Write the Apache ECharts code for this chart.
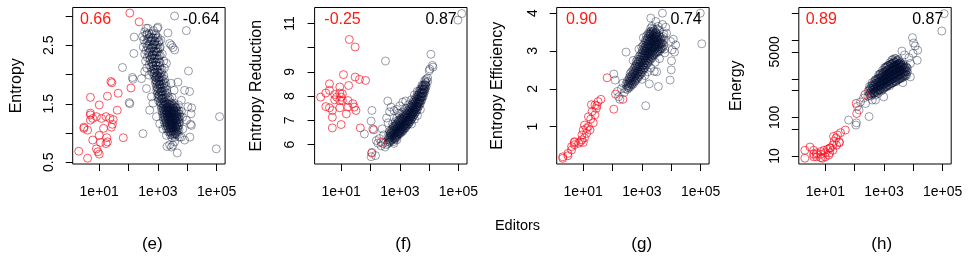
<!DOCTYPE html>
<html><head><meta charset="utf-8">
<script src="https://cdn.jsdelivr.net/npm/echarts@6/dist/echarts.min.js"></script>
<style>html,body{margin:0;padding:0;background:#fff}#c{width:969px;height:259px}</style>
</head><body><div id="c"></div>
<script>
// ---------- DATA (editors, metric) ----------
const panelNames = ['Entropy', 'Entropy Reduction', 'Entropy Efficiency', 'Energy'];
const panelLetters = ['(e)', '(f)', '(g)', '(h)'];
const corrRed = ['0.66', '-0.25', '0.90', '0.89'];
const corrBlue = ['-0.64', '0.87', '0.74', '0.87'];
const xTitle = 'Editors';
const xTickEditors = [10, 100, 1000, 10000, 100000];
const xLabelEditors = [10, 1000, 100000];
const eTicks = [0.5, 1, 1.5, 2, 2.5, 3], eLabels = [0.5, 1.5, 2.5];
const fTicks = [6, 7, 8, 9, 10, 11], fLabels = [6, 7, 8, 9, 11];
const gTicks = [1, 2, 3, 4], gLabels = [1, 2, 3, 4];
const hTicks = [10, 50, 100, 500, 1000, 5000, 10000, 50000], hLabels = [10, 100, 5000];

const eRed = [[110,3.05],[229,2.90],[25,1.88],[27,1.86],[120,1.77],[44,1.68],[19,1.63],[5,1.61],[10,1.48],[41,1.39],[5,1.34],[5,1.31],[8,1.28],[12,1.25],[17,1.28],[23,1.25],[30,1.23],[28,1.15],[26,1.10],[6,1.25],[5,1.22],[3,1.10],[3,1.08],[4,1.05],[14,1.08],[10,0.96],[6,0.88],[18,0.92],[19,0.85],[17,0.82],[66,0.92],[8,0.73],[9,0.68],[10,0.64],[2,0.69],[4,0.57],[11,0.84]];
const eBlue = [[3700,3.00],[9300,2.75],[457,2.79],[1000,2.81],[155,2.64],[2190,2.71],[151,2.36],[2880,2.50],[3240,2.46],[62,2.12],[141,1.92],[135,1.95],[11000,2.06],[12000,1.71],[105,1.52],[110,1.50],[14100,1.43],[126000,1.28],[13500,1.33],[12900,1.15],[309,0.99],[12300,0.93],[2510,0.80],[2880,0.76],[2040,0.77],[4570,0.66],[97700,0.73],[6310,0.93],[8130,0.88],[398,2.79],[955,2.79],
[2510,2.53],[3720,2.42],[1950,2.19],[4790,1.87],[8130,1.73],[6310,1.56],[10500,1.45],[9330,1.22],[13800,1.13],[7080,1.07],[3720,0.85],[3240,0.79],[5500,0.93],[355,2.05],[275,1.93],[407,1.76],[603,1.62],[676,1.51],[525,1.39],[891,1.28],[1150,1.16],[1480,1.07],[1950,0.96],
[355,2.73],[501,2.70],[708,2.75],[302,2.65],[417,2.68],[575,2.64],[832,2.67],[331,2.59],[457,2.61],[631,2.58],[891,2.62],[1260,2.59],[380,2.53],[525,2.56],[724,2.52],[1050,2.55],[316,2.47],[437,2.49],[603,2.46],[832,2.50],[1200,2.47],[398,2.41],[550,2.43],[759,2.40],[1000,2.44],[355,2.35],[479,2.37],[661,2.34],[912,2.38],[1410,2.35],[437,2.29],[603,2.31],[794,2.28],[1100,2.32],[380,2.23],[525,2.25],[708,2.22],[955,2.26],[1580,2.23],[501,2.17],[661,2.19],[871,2.16],[1200,2.20],[417,2.11],[575,2.13],[759,2.10],[1000,2.14],[1660,2.11],[603,2.05],[794,2.07],[1050,2.04],[1380,2.08],[501,1.99],[692,2.01],[912,1.98],[1200,2.02],
[640,2.62],[780,2.56],[690,2.47],[860,2.40],[740,2.33],[640,2.27],[830,2.20],[700,2.14],[900,2.09],[760,2.03],[850,1.95],[1100,1.94],[900,1.88],[1150,1.83],[980,1.76],[1300,1.71],[1080,1.64],[1380,1.59],
[417,2.70],[603,2.70],[832,2.70],[501,2.63],[692,2.63],[1000,2.63],[437,2.57],[575,2.57],[794,2.57],[1100,2.57],[501,2.51],[692,2.51],[955,2.51],[457,2.45],[631,2.45],[871,2.45],[1150,2.45],[525,2.39],[724,2.39],[1000,2.39],[501,2.33],[661,2.33],[912,2.33],[1200,2.33],[550,2.27],[759,2.27],[1050,2.27],[603,2.21],[832,2.21],[1100,2.21],[661,2.15],[871,2.15],[1150,2.15],[692,2.09],[912,2.09],[1200,2.09],[759,2.03],[1000,2.03],[1320,2.03],
[851,1.95],[1070,1.95],[1380,1.95],[891,1.89],[1120,1.89],[1480,1.89],[933,1.83],[1170,1.83],[1550,1.83],[1000,1.77],[1260,1.77],[1660,1.77],[1050,1.71],[1320,1.71],[1740,1.71],[1100,1.65],[1380,1.65],[1820,1.65],[1150,1.59],[1450,1.59],[1910,1.59],[2510,1.59],
[759,1.97],[955,1.99],[1200,1.96],[1580,1.98],[794,1.91],[1000,1.93],[1260,1.90],[1660,1.92],[832,1.85],[1050,1.87],[1320,1.84],[1780,1.86],[2820,1.85],[891,1.79],[1120,1.81],[1410,1.78],[1910,1.80],[912,1.73],[1150,1.75],[1450,1.72],[2000,1.74],[3550,1.73],[955,1.67],[1200,1.69],[1510,1.66],[2090,1.68],[1000,1.61],[1260,1.63],[1580,1.60],[2190,1.62],[3020,1.61],[1050,1.55],[1320,1.57],[1660,1.54],[2290,1.56],
[1200,1.52],[1450,1.51],[1740,1.53],[2090,1.50],[2630,1.52],[3550,1.51],[1260,1.47],[1510,1.46],[1820,1.48],[2190,1.45],[2750,1.47],[3630,1.46],[5010,1.48],[1320,1.42],[1580,1.41],[1910,1.43],[2290,1.40],[2880,1.42],[3470,1.41],[4370,1.43],[1380,1.37],[1660,1.36],[2000,1.38],[2400,1.35],[3020,1.37],[3630,1.36],[4570,1.38],[6310,1.37],[1450,1.32],[1740,1.31],[2090,1.33],[2510,1.30],[3020,1.32],[3800,1.31],[4790,1.33],[1510,1.27],[1820,1.26],[2190,1.28],[2630,1.25],[3160,1.27],[3980,1.26],[5010,1.28],[6920,1.27],[1580,1.22],[1910,1.21],[2290,1.23],[2750,1.20],[3310,1.22],[4170,1.21],[5250,1.23],[1700,1.17],[2040,1.16],[2400,1.18],[2880,1.15],[3470,1.17],[4370,1.16],[5500,1.18],[1820,1.12],[2190,1.11],[2630,1.13],[3160,1.10],[3800,1.12],[4790,1.11],[2000,1.07],[2400,1.06],[2880,1.08],[3470,1.05],[4170,1.07],[5250,1.06],[2290,1.02],[2750,1.01],[3310,1.03],[3980,1.00],[4790,1.02],[2630,0.97],[3160,0.96],[3800,0.98],[4570,0.97],[3020,0.92],[3800,0.93],
[2000,1.445],[2510,1.44],[3160,1.45],[3980,1.44],[1820,1.395],[2290,1.39],[2880,1.40],[3630,1.39],[2000,1.345],[2510,1.34],[3160,1.35],[4170,1.34],[2190,1.295],[2750,1.29],[3470,1.30],[4370,1.29],[2290,1.245],[2880,1.24],[3630,1.25],[4570,1.24],[2510,1.195],[3160,1.19],[3980,1.20],[2510,1.145],[3020,1.14],[3630,1.15],[4370,1.14],[2750,1.095],[3310,1.09],[3980,1.10],
[1320,1.50],[1580,1.50],[1910,1.50],[2340,1.50],[3020,1.50],[1660,1.48],[2510,1.48],[3310,1.48],[1450,1.43],[1780,1.43],[2140,1.43],[2630,1.43],[3240,1.43],[3980,1.43],[1550,1.38],[1910,1.38],[2290,1.38],[2750,1.38],[3390,1.38],[4170,1.38],[5250,1.38],[1620,1.33],[1950,1.33],[2340,1.33],[2820,1.33],[3470,1.33],[4270,1.33],[5370,1.33],[1700,1.28],[2040,1.28],[2450,1.28],[2950,1.28],[3630,1.28],[4470,1.28],[5750,1.28],[1780,1.23],[2140,1.23],[2570,1.23],[3090,1.23],[3800,1.23],[4680,1.23],[1910,1.18],[2290,1.18],[2750,1.18],[3310,1.18],[4070,1.18],[5010,1.18],[2040,1.13],[2450,1.13],[2950,1.13],[3550,1.13],[4370,1.13],[5250,1.13],[2240,1.08],[2690,1.08],[3240,1.08],[3890,1.08],[4680,1.08],[2510,1.03],[3020,1.03],[3630,1.03],[4370,1.03],[2880,0.99],[3470,0.99],[4170,0.99]];

const fRed = [[19,10.34],[30,10.03],[12,8.89],[30,8.79],[42,8.69],[68,8.65],[4,8.51],[18,8.44],[9,8.38],[3,8.13],[2,7.96],[4,8.24],[6,8.07],[9,8.13],[11,8.10],[7,7.96],[10,7.96],[9,7.82],[11,7.82],[17,7.82],[6,7.85],[3,7.57],[4,7.52],[5,7.41],[9,7.52],[17,7.55],[25,7.69],[28,7.55],[32,7.41],[15,7.27],[5,7.13],[5,6.69],[10,6.83],[45,6.69],[129,6.61],[229,6.10],[110,5.65]];
const fBlue = [[263,6.05],[229,5.95],[200,6.25],[282,6.40],[316,5.90],[355,6.00],[158,6.17],[178,6.06],[112,5.68],[105,5.50],[148,5.55],[62,6.44],[120,6.65],[105,6.97],[112,7.41],[389,7.80],[324,9.45],[11500,9.73],[12900,9.27],[13500,9.20],[10500,9.12],[10000,9.05],[95500,11.14],[129000,11.41],[251,6.65],[355,7.10],[447,7.35],[501,7.55],[631,7.40],[398,6.90],[794,7.45],[1000,7.60],[1260,7.75],[1580,7.80],[891,7.30],[3160,7.05],[3980,7.20],[5010,7.45],[2510,6.85],
[398,6.05],[405,6.20],[392,6.35],[447,6.10],[440,6.25],[455,6.40],[447,6.55],[501,6.15],[510,6.30],[495,6.45],[505,6.60],[562,6.20],[555,6.35],[570,6.50],[560,6.65],[566,6.85],[631,6.05],[640,6.25],[625,6.40],[635,6.55],[628,6.70],[708,6.30],[700,6.45],[715,6.60],[705,6.75],[712,6.95],[794,6.20],[785,6.35],[800,6.50],[790,6.65],[798,6.80],[788,7.10],[891,6.40],[880,6.55],[900,6.70],[885,6.85],[895,7.00],[1000,6.45],[990,6.60],[1010,6.75],[995,6.90],[1005,7.05],[985,7.25],[1122,6.50],[1110,6.65],[1130,6.80],[1115,6.95],[1125,7.10],[1259,6.55],[1245,6.70],[1270,6.85],[1250,7.00],[1265,7.15],[1240,7.35],[1413,6.65],[1400,6.80],[1425,6.95],[1405,7.10],[1420,7.25],[1585,6.70],[1570,6.85],[1600,7.00],[1575,7.15],[1595,7.30],[1565,7.50],[1778,6.80],[1760,6.95],[1795,7.10],[1770,7.25],[1785,7.40],[1995,6.85],[1980,7.00],[2010,7.15],[1985,7.30],[2005,7.45],[1975,7.65],[2239,6.95],[2220,7.10],[2255,7.25],[2230,7.40],[2250,7.55],[2512,7.05],[2490,7.20],[2530,7.35],[2500,7.50],[2520,7.65],[2480,7.85],[2818,7.15],[2800,7.30],[2840,7.45],[2810,7.60],[2830,7.75],[3162,7.25],[3140,7.40],[3180,7.55],[3150,7.70],[3170,7.85],[3130,8.05],[3548,7.35],[3520,7.50],[3570,7.65],[3530,7.80],[3560,7.95],[3981,7.45],[3950,7.60],[4010,7.75],[3960,7.90],[4000,8.05],[3940,8.20],[4467,7.60],[4430,7.75],[4500,7.90],[4450,8.05],[4480,8.20],[5012,7.70],[4970,7.85],[5050,8.00],[4990,8.15],[5030,8.30],[5623,7.85],[5580,8.00],[5660,8.15],[5600,8.30],[5640,8.45],[6310,8.00],[6260,8.15],[6350,8.30],[6290,8.45],[7079,8.20],[7020,8.35],[7130,8.50],[7050,8.65],[7943,8.40],[7880,8.55],[8000,8.70],[8913,8.60],[8850,8.75],
[600,6.12],[680,6.22],[760,6.28],[850,6.45],[950,6.52],[1060,6.58],[1180,6.62],[1330,6.75],[1500,6.78],[1680,6.88],[1880,6.95],[2120,7.02],[2370,7.15],[2660,7.25],[2980,7.35],[3350,7.45],[3760,7.55],[4220,7.70],[4740,7.80],[5300,7.95],[5950,8.10],[6680,8.25],[7500,8.45],
[417,6.12],[417,6.28],[468,6.18],[468,6.33],[468,6.48],[525,6.22],[525,6.38],[525,6.52],[589,6.28],[589,6.42],[589,6.58],[589,6.75],[661,6.32],[661,6.48],[661,6.62],[661,6.78],[741,6.38],[741,6.52],[741,6.68],[741,6.85],[832,6.42],[832,6.58],[832,6.72],[832,6.90],[933,6.48],[933,6.62],[933,6.78],[933,6.95],[1047,6.52],[1047,6.68],[1047,6.82],[1047,7.00],[1175,6.58],[1175,6.72],[1175,6.88],[1175,7.05],[1318,6.62],[1318,6.78],[1318,6.92],[1318,7.10],[1479,6.70],[1479,6.85],[1479,7.00],[1479,7.18],[1660,6.78],[1660,6.92],[1660,7.08],[1660,7.22],[1862,6.85],[1862,7.00],[1862,7.15],[1862,7.30],[2089,6.92],[2089,7.08],[2089,7.22],[2089,7.38],[2344,7.02],[2344,7.18],[2344,7.32],[2344,7.48],[2630,7.12],[2630,7.28],[2630,7.42],[2630,7.58],[2951,7.22],[2951,7.38],[2951,7.52],[2951,7.68],[3311,7.32],[3311,7.48],[3311,7.62],[3311,7.78],[3715,7.42],[3715,7.58],[3715,7.72],[3715,7.88],[4169,7.55],[4169,7.70],[4169,7.85],[4169,8.00],[4677,7.68],[4677,7.82],[4677,7.98],[4677,8.12],[5248,7.80],[5248,7.95],[5248,8.10],[5248,8.25],[5888,7.95],[5888,8.10],[5888,8.25],[5888,8.40],[6607,8.12],[6607,8.28],[6607,8.42],[7413,8.30],[7413,8.45],[7413,8.60]];

const gRed = [[65,2.29],[126,1.86],[224,1.72],[110,1.46],[40,1.72],[32,1.66],[25,1.57],[19,1.58],[28,1.48],[20,1.40],[29,1.55],[15,1.26],[25,1.31],[22,1.10],[11,1.04],[15,1.00],[17,0.91],[10,0.91],[13,0.82],[9,0.78],[11,0.70],[9,0.65],[10,0.58],[7,0.56],[5,0.60],[5,0.58],[5,0.52],[4,0.47],[4,0.38],[3,0.29],[3,0.23],[2,0.20],[2,0.16],[13,0.95],[8,0.60],[18,1.20]];
const gBlue = [[97700,4.00],[110000,3.19],[5010,4.00],[1350,1.55],[288,2.97],[110,2.39],[123,2.23],[145,1.93],[162,1.79],[178,1.72],[10700,3.03],[12900,2.97],[10200,2.74],[10000,2.50],[9120,2.23],[3630,2.06],[9550,3.25],[11700,3.31],[6460,3.63],[2950,3.78],[2000,3.87],[14100,3.16],[1780,2.13],[2630,2.46],[6920,3.47],
[1000,2.25],[1260,2.35],[1580,2.45],[2000,2.55],[2820,2.70],[3980,2.80],[501,2.75],[794,3.05],[1120,3.35],[3980,3.55],[5620,3.45],[6030,2.95],[3160,2.45],[200,2.00],[224,2.15],[251,1.90],[5010,3.70],[3550,3.65],
[2000,3.60],[2400,3.58],[2700,3.55],[1800,3.50],[3000,3.50],[3300,3.58],[2200,3.65],[5500,3.15],[5800,3.30],[5300,3.38],[6000,3.05],
[282,2.00],[285,2.12],[316,1.98],[320,2.08],[312,2.20],[355,2.02],[350,2.12],[360,2.25],[398,2.05],[392,2.15],[404,2.28],[395,2.40],[447,2.10],[440,2.20],[452,2.32],[444,2.45],[501,2.12],[495,2.25],[508,2.38],[498,2.50],[562,2.18],[555,2.30],[570,2.42],[558,2.55],[631,2.22],[622,2.35],[640,2.48],[628,2.60],[636,2.72],[708,2.28],[700,2.40],[716,2.52],[704,2.65],[712,2.78],[794,2.32],[785,2.45],[803,2.58],[790,2.70],[798,2.85],[891,2.38],[880,2.50],[900,2.62],[885,2.75],[896,2.90],[1000,2.42],[990,2.55],[1010,2.68],[995,2.80],[1005,2.95],[985,3.10],[1122,2.50],[1110,2.62],[1135,2.75],[1115,2.88],[1128,3.00],[1105,3.15],[1259,2.55],[1245,2.68],[1272,2.80],[1250,2.92],[1265,3.05],[1240,3.20],[1413,2.62],[1400,2.75],[1428,2.88],[1405,3.00],[1420,3.12],[1395,3.25],[1432,3.40],[1585,2.68],[1570,2.80],[1600,2.92],[1575,3.05],[1595,3.18],[1565,3.30],[1605,3.45],[1778,2.72],[1760,2.85],[1795,2.98],[1770,3.10],[1785,3.22],[1755,3.35],[1995,2.78],[1975,2.90],[2015,3.02],[1985,3.15],[2005,3.28],[1970,3.40],[2020,3.52],[2239,2.82],[2215,2.95],[2260,3.08],[2225,3.20],[2250,3.32],[2210,3.45],[2512,2.88],[2490,3.00],[2535,3.12],[2500,3.25],[2525,3.38],[2485,3.50],[2818,2.92],[2790,3.05],[2845,3.18],[2805,3.30],[2830,3.42],[3162,2.95],[3130,3.08],[3190,3.20],[3145,3.32],[3175,3.45],[3548,2.98],[3510,3.10],[3580,3.22],[3530,3.35],[3981,3.00],[3940,3.12],[4020,3.25],[3960,3.38],[4467,3.05],[4420,3.18],[4510,3.30],[5012,3.08],[4960,3.20],
[1330,2.98],[1500,3.08],[1680,3.15],[1880,3.25],[2110,3.35],[2370,3.42],[2660,3.25],[2980,3.15],[3350,3.28],[1200,2.85],[1680,2.95],[2110,3.08],[2660,3.35],[3000,3.38],[3760,3.18],[1880,3.45],
[331,2.04],[331,2.15],[372,2.08],[372,2.19],[372,2.30],[417,2.12],[417,2.22],[417,2.34],[468,2.15],[468,2.27],[468,2.38],[525,2.20],[525,2.32],[525,2.44],[589,2.24],[589,2.36],[589,2.48],[589,2.60],[661,2.28],[661,2.42],[661,2.55],[661,2.66],[741,2.34],[741,2.46],[741,2.58],[741,2.72],[832,2.38],[832,2.52],[832,2.64],[832,2.78],[933,2.45],[933,2.58],[933,2.70],[933,2.85],[1047,2.50],[1047,2.62],[1047,2.75],[1047,2.88],[1047,3.02],[1175,2.55],[1175,2.68],[1175,2.82],[1175,2.95],[1175,3.08],[1318,2.62],[1318,2.75],[1318,2.88],[1318,3.00],[1318,3.12],[1318,3.28],[1479,2.68],[1479,2.82],[1479,2.94],[1479,3.06],[1479,3.18],[1479,3.32],[1660,2.75],[1660,2.88],[1660,3.00],[1660,3.12],[1660,3.25],[1660,3.38],[1862,2.80],[1862,2.92],[1862,3.05],[1862,3.18],[1862,3.30],[1862,3.44],[2089,2.85],[2089,2.98],[2089,3.10],[2089,3.22],[2089,3.35],[2089,3.48],[2344,2.90],[2344,3.02],[2344,3.15],[2344,3.28],[2344,3.40],[2344,3.52],[2630,2.94],[2630,3.06],[2630,3.18],[2630,3.32],[2630,3.45],[2951,2.98],[2951,3.10],[2951,3.24],[2951,3.36],[2951,3.48],[3311,3.00],[3311,3.14],[3311,3.26],[3311,3.40],[3715,3.04],[3715,3.16],[3715,3.30],[3715,3.42],[4169,3.06],[4169,3.20],[4169,3.32],[4677,3.10],[4677,3.22],[4677,3.35]];

const hRed = [[224,390],[112,230],[117,126],[48,47],[33,40],[26,35],[19,32],[23,29],[30,23],[30,22],[24,19],[15,16],[12,15],[9,14],[7,13],[5,12],[4,14],[3,17],[2,14],[2,8.7],[4,11],[5,9.5],[8,8.7],[10,9.5],[14,12],[18,14],[5,11],[7,11],[10,12],[14,16],[18,19],[4,9.5],[7,9.0],[13,10.5],[20,24]];
const hBlue = [[112000,49000],[93300,17400],[9330,11700],[10200,8510],[11500,7080],[14100,5500],[13500,3020],[9770,4570],[4070,5250],[5010,4170],[7080,3550],[7940,2510],[309,105],[110,63],[115,72],[62,85],[141,155],[123,191],[234,229],[398,282],[513,282],[977,339],[4370,794],[7940,1120],[200,316],[158,251],
[282,355],[285,479],[316,380],[312,501],[320,631],[355,355],[350,447],[360,562],[398,398],[392,501],[404,631],[395,794],[447,417],[441,525],[452,661],[501,380],[495,479],[508,603],[498,759],[505,955],[562,447],[555,562],[570,708],[558,891],[631,417],[622,525],[640,661],[628,832],[636,1047],[708,501],[700,631],[716,794],[704,1000],[712,1259],[794,479],[785,603],[803,759],[790,955],[798,1202],[891,525],[880,661],[900,832],[885,1047],[896,1318],[888,1660],[1000,562],[990,708],[1010,891],[995,1122],[1005,1413],[1122,603],[1110,759],[1135,955],[1115,1202],[1128,1514],[1105,1905],[1259,631],[1245,794],[1272,1000],[1250,1259],[1265,1585],[1240,1995],[1413,708],[1400,891],[1428,1122],[1405,1413],[1420,1778],[1395,2239],[1585,661],[1570,832],[1600,1047],[1575,1318],[1595,1660],[1565,2089],[1605,2630],[1778,759],[1760,955],[1795,1202],[1770,1514],[1785,1905],[1755,2399],[1995,794],[1975,1000],[2015,1259],[1985,1585],[2005,1995],[1970,2512],[2020,3162],[2239,891],[2215,1122],[2260,1413],[2225,1778],[2250,2239],[2210,2818],[2512,832],[2490,1047],[2535,1318],[2500,1660],[2525,2089],[2485,2630],[2540,3311],[2818,955],[2790,1202],[2845,1514],[2805,1905],[2830,2399],[2780,3020],[3162,1000],[3130,1259],[3190,1585],[3145,1995],[3175,2512],[3120,3162],[3548,1047],[3510,1318],[3580,1660],[3530,2089],[3565,2630],[3981,1122],[3940,1413],[4020,1778],[3960,2239],[4467,1202],[4420,1514],[4510,1905],[4450,2399],[5012,1259],[4960,1585],[5060,1995],[5623,1318],[5570,1660],[5680,2089],[6310,1514],[6250,1905],
[760,700],[850,850],[950,900],[1060,1000],[1180,1150],[1330,1250],[1500,1400],[1680,1500],[1880,1650],[2110,1800],[2370,1950],[2660,2100],[2980,2250],[3350,2400],[3760,2300],[4220,2000],[1330,900],[1680,1100],[2110,1350],[2660,1600],[3350,1800],
[331,417],[331,562],[372,398],[372,501],[372,661],[417,447],[417,562],[417,708],[468,427],[468,537],[468,676],[468,851],[525,468],[525,589],[525,741],[525,933],[589,490],[589,617],[589,776],[589,977],[661,513],[661,646],[661,813],[661,1023],[661,1288],[741,537],[741,676],[741,851],[741,1072],[741,1349],[832,562],[832,708],[832,891],[832,1122],[832,1413],[933,589],[933,741],[933,933],[933,1175],[933,1479],[1047,617],[1047,776],[1047,977],[1047,1230],[1047,1549],[1047,1950],[1175,646],[1175,813],[1175,1023],[1175,1288],[1175,1622],[1175,2040],[1318,676],[1318,851],[1318,1072],[1318,1349],[1318,1698],[1318,2140],[1479,708],[1479,891],[1479,1122],[1479,1413],[1479,1778],[1479,2240],[1660,741],[1660,933],[1660,1175],[1660,1479],[1660,1862],[1660,2340],[1862,776],[1862,977],[1862,1230],[1862,1549],[1862,1950],[1862,2450],[1862,3090],[2089,813],[2089,1023],[2089,1288],[2089,1622],[2089,2040],[2089,2570],[2344,851],[2344,1072],[2344,1349],[2344,1698],[2344,2140],[2344,2690],[2344,3390],[2630,891],[2630,1122],[2630,1413],[2630,1778],[2630,2240],[2630,2820],[2951,933],[2951,1175],[2951,1479],[2951,1862],[2951,2340],[2951,2950],[3311,977],[3311,1230],[3311,1549],[3311,1950],[3311,2450],[3715,1023],[3715,1288],[3715,1622],[3715,2040],[3715,2570],[4169,1072],[4169,1349],[4169,1698],[4169,2140],[4677,1122],[4677,1413],[4677,1778],[4677,2240],[5248,1175],[5248,1479],[5248,1862],[5888,1230],[5888,1549],[5888,1950]];

// ---------- LAYOUT / STYLE ----------
const FONT = 'Liberation Sans, Arial, Helvetica, sans-serif';
const BLUE = 'rgba(0,12,45,0.5)';
const RED = 'rgba(250,10,30,0.85)';
const lefts = [72.7, 314.6, 556.7, 798.8];
const boxW = 152.4, boxTop = 7.5, boxH = 156.5;
const panels = [
  {red: eRed, blue: eBlue, ticks: eTicks, labels: eLabels, logY: false, min: 0.471, max: 3.145, gap: 48},
  {red: fRed, blue: fBlue, ticks: fTicks, labels: fLabels, logY: false, min: 5.2, max: 11.66, gap: 50},
  {red: gRed, blue: gBlue, ticks: gTicks, labels: gLabels, logY: false, min: 0.01, max: 4.15, gap: 51},
  {red: hRed, blue: hBlue, ticks: hTicks, labels: hLabels, logY: true, min: 0.79, max: 4.85, gap: 54}
];
const corrRedX = [80, 324.3, 566, 805.7];
const corrBlueX = [219.3, 456.7, 701.7, 943.3];
const letterX = [152.3, 403.3, 641.7, 881.7];

const option = {animation: false, grid: [], xAxis: [], yAxis: [], series: [], graphic: []};
panels.forEach((p, i) => {
  const ty = v => p.logY ? Math.log10(v) : v;
  option.grid.push({left: lefts[i], top: boxTop, width: boxW, height: boxH, show: true,
    borderColor: '#000', borderWidth: 1, backgroundColor: 'transparent', containLabel: false, outerBoundsMode: 'none'});
  option.xAxis.push({gridIndex: i, type: 'value', min: 0.095, max: 5.29,
    axisLine: {show: false}, splitLine: {show: false},
    axisTick: {show: true, inside: false, length: 7, lineStyle: {color: '#000', width: 1}, customValues: xTickEditors.map(Math.log10)},
    axisLabel: {customValues: xLabelEditors.map(Math.log10), formatter: v => '1e+0' + Math.round(v),
      margin: 21, color: '#000', fontSize: 14, fontFamily: FONT, hideOverlap: false}});
  option.yAxis.push({gridIndex: i, type: 'value', min: p.min, max: p.max,
    name: panelNames[i], nameLocation: 'middle', nameGap: p.gap, nameRotate: 90,
    nameTextStyle: {color: '#000', fontSize: 16, fontFamily: FONT},
    axisLine: {show: false}, splitLine: {show: false},
    axisTick: {show: true, inside: false, length: 7, lineStyle: {color: '#000', width: 1}, customValues: p.ticks.map(ty)},
    axisLabel: {customValues: p.labels.map(ty), rotate: 90, margin: 17, color: '#000', fontSize: 14, fontFamily: FONT, hideOverlap: false,
      formatter: v => p.logY ? String(Math.round(Math.pow(10, v))) : String(v)}});
  option.series.push({type: 'scatter', xAxisIndex: i, yAxisIndex: i, silent: true, symbol: 'circle', symbolSize: 8,
    data: p.blue.map(d => [Math.log10(d[0]), ty(d[1])]),
    itemStyle: {color: 'transparent', borderColor: BLUE, borderWidth: 1}, emphasis: {disabled: true}});
  option.series.push({type: 'scatter', xAxisIndex: i, yAxisIndex: i, silent: true, symbol: 'circle', symbolSize: 8,
    data: p.red.map(d => [Math.log10(d[0]), ty(d[1])]),
    itemStyle: {color: 'transparent', borderColor: RED, borderWidth: 1}, emphasis: {disabled: true}});
  option.graphic.push({type: 'text', x: corrRedX[i], y: 20, silent: true,
    style: {text: corrRed[i], fill: '#ff1a10', fontSize: 16, fontFamily: FONT, align: 'left', verticalAlign: 'middle'}});
  option.graphic.push({type: 'text', x: corrBlueX[i], y: 20, silent: true,
    style: {text: corrBlue[i], fill: '#000', fontSize: 16, fontFamily: FONT, align: 'right', verticalAlign: 'middle'}});
  option.graphic.push({type: 'text', x: letterX[i], y: 244, silent: true,
    style: {text: panelLetters[i], fill: '#000', fontSize: 17, fontFamily: FONT, align: 'center', verticalAlign: 'middle'}});
});
option.graphic.push({type: 'text', x: 517.5, y: 226, silent: true,
  style: {text: xTitle, fill: '#000', fontSize: 14.5, fontFamily: FONT, align: 'center', verticalAlign: 'middle'}});

const chart = echarts.init(document.getElementById('c'), null, {renderer: 'canvas'});
chart.setOption(option);
</script>
</body></html>
